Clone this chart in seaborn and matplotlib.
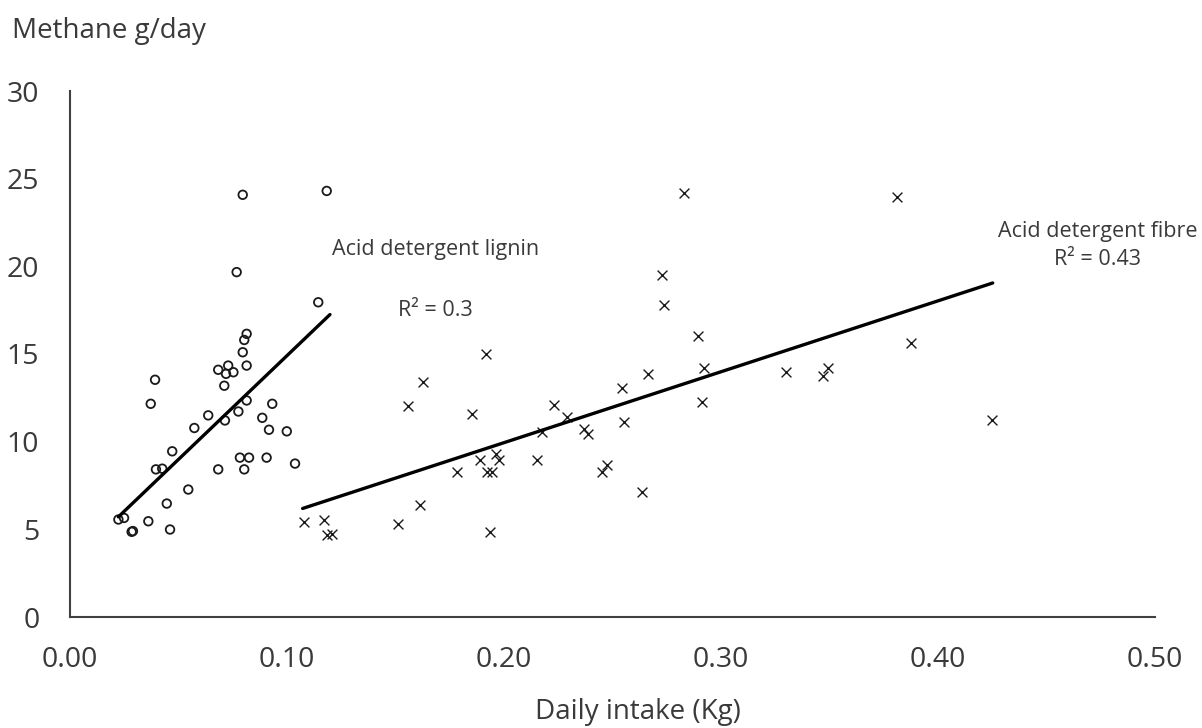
import numpy as np
import pandas as pd
import matplotlib
matplotlib.use("Agg")
import matplotlib.pyplot as plt
import seaborn as sns

# ---- data ----
adl_intake = [0.0796, 0.1183, 0.0768, 0.1144, 0.0814, 0.0803, 0.0796, 0.0814, 0.0683, 0.0729,
              0.0719, 0.0753, 0.0392, 0.0372, 0.0711, 0.0814, 0.0932, 0.0637, 0.0776, 0.0714,
              0.0886, 0.0573, 0.0917, 0.0999, 0.0471, 0.0783, 0.0825, 0.0906, 0.1037, 0.0396,
              0.0425, 0.0683, 0.0803, 0.0545, 0.0446, 0.0223, 0.0249, 0.0361, 0.0284, 0.0290,
              0.0461]
adl_methane = [24.08, 24.30, 19.67, 17.95, 16.15, 15.80, 15.10, 14.34, 14.10, 14.34,
               13.87, 13.96, 13.53, 12.16, 13.19, 12.35, 12.16, 11.50, 11.72, 11.21,
               11.36, 10.78, 10.68, 10.59, 9.45, 9.09, 9.09, 9.09, 8.75, 8.42,
               8.46, 8.42, 8.42, 7.27, 6.47, 5.56, 5.65, 5.46, 4.86, 4.90,
               4.99]

adf_intake = [0.1080, 0.1171, 0.1183, 0.1209, 0.1917, 0.1625, 0.1559, 0.1854, 0.1889, 0.1963,
              0.1978, 0.1782, 0.1920, 0.1943, 0.2151, 0.1613, 0.1513, 0.1935, 0.2829, 0.2729,
              0.2737, 0.2895, 0.2922, 0.2665, 0.2545, 0.3298, 0.2230, 0.2289, 0.2553, 0.2914,
              0.2174, 0.2369, 0.2389, 0.2450, 0.2473, 0.2637, 0.3810, 0.3874, 0.3494, 0.3471,
              0.4247]
adf_methane = [5.43, 5.56, 4.67, 4.76, 15.01, 13.39, 12.03, 11.59, 8.98, 9.28,
               8.98, 8.27, 8.27, 8.27, 8.98, 6.37, 5.33, 4.86, 24.17, 19.52,
               17.81, 16.01, 14.21, 13.87, 13.07, 13.96, 12.07, 11.40, 11.12, 12.29,
               10.55, 10.74, 10.42, 8.27, 8.65, 7.13, 23.96, 15.63, 14.21, 13.77,
               11.25]

# trendline end points (as drawn in the reference)
adl_trend_x = [0.0223, 0.1198]
adl_trend_y = [5.71, 17.25]
adf_trend_x = [0.1072, 0.4252]
adf_trend_y = [6.19, 19.05]

x_ticks = [0.0, 0.1, 0.2, 0.3, 0.4, 0.5]
x_ticklabels = ["0.00", "0.10", "0.20", "0.30", "0.40", "0.50"]
y_ticks = [0, 5, 10, 15, 20, 25, 30]

adl_label = "Acid detergent lignin"
adl_r2 = "R\u00b2 = 0.3"
adf_label = "Acid detergent fibre"
adf_r2 = "R\u00b2 = 0.43"

sns.set_theme(style="white")
plt.rcParams['font.family'] = ['Open Sans', 'DejaVu Sans']

W, H = 1202, 728
fig = plt.figure(figsize=(W / 100, H / 100), dpi=100)
ax = fig.add_axes([70 / W, 1 - 617 / H, (1155 - 70) / W, (617 - 91) / H])

txt_col = "#3a3a3a"
mk_col = "#1a1a1a"

df_adl = pd.DataFrame({"x": adl_intake, "y": adl_methane})
df_adf = pd.DataFrame({"x": adf_intake, "y": adf_methane})

sns.scatterplot(data=df_adl, x="x", y="y", ax=ax, marker="o", s=38,
                facecolors="none", edgecolor=mk_col, linewidth=1.3, legend=False)
sns.scatterplot(data=df_adf, x="x", y="y", ax=ax, marker="x", s=50,
                color=mk_col, linewidth=1.0, legend=False)

sns.lineplot(x=adl_trend_x, y=adl_trend_y, ax=ax, color="black", linewidth=2.4)
sns.lineplot(x=adf_trend_x, y=adf_trend_y, ax=ax, color="black", linewidth=2.4)

ax.set_xlim(0, 0.5)
ax.set_ylim(0, 30)
ax.set_xticks(x_ticks)
ax.set_xticklabels(x_ticklabels)
ax.set_yticks(y_ticks)
ax.tick_params(axis="both", length=0, labelsize=20.5, colors=txt_col)
ax.tick_params(axis="x", pad=21)
ax.tick_params(axis="y", pad=22)
for s in ["top", "right"]:
    ax.spines[s].set_visible(False)
for s in ["left", "bottom"]:
    ax.spines[s].set_color("#404040")
    ax.spines[s].set_linewidth(1.5)
ax.set_xlabel("")
ax.set_ylabel("")

fig.text(12 / W, 1 - 31 / H, "Methane g/day", ha="left", va="center",
         fontsize=20, color=txt_col)
fig.text(638 / W, 1 - 712 / H, "Daily intake (Kg)", ha="center", va="center",
         fontsize=20, color=txt_col)

fig.text(436 / W, 1 - 250 / H, adl_label, ha="center", va="center", fontsize=15.5, color=txt_col)
fig.text(435 / W, 1 - 310 / H, adl_r2, ha="center", va="center", fontsize=15.5, color=txt_col)
fig.text(1098 / W, 1 - 232 / H, adf_label, ha="center", va="center", fontsize=15.5, color=txt_col)
fig.text(1098 / W, 1 - 259 / H, adf_r2, ha="center", va="center", fontsize=15.5, color=txt_col)

fig.savefig("out.png", dpi=100, facecolor="white")
